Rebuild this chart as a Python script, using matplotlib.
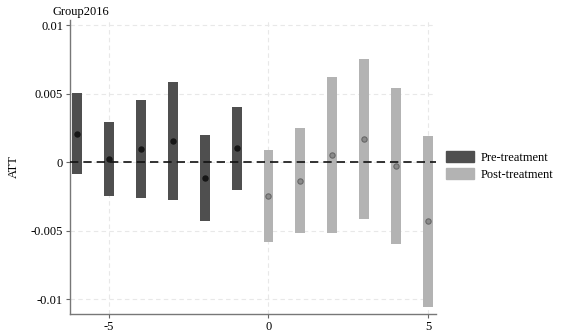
import matplotlib
matplotlib.use("Agg")
import matplotlib.pyplot as plt
from matplotlib.patches import Patch

plt.rcParams['font.family'] = ['Liberation Serif', 'DejaVu Serif']

# event time, point estimate and CI bounds
pre_t = [-6, -5, -4, -3, -2, -1]
pre_att = [0.0021, 0.00022, 0.00095, 0.00153, -0.00112, 0.00104]
pre_lo = [-0.00083, -0.00248, -0.0026, -0.00277, -0.00428, -0.00199]
pre_hi = [0.00509, 0.00294, 0.00453, 0.00586, 0.00202, 0.00404]

post_t = [0, 1, 2, 3, 4, 5]
post_att = [-0.00248, -0.00134, 0.00053, 0.00173, -0.00027, -0.00431]
post_lo = [-0.00586, -0.0052, -0.00516, -0.00411, -0.00601, -0.01056]
post_hi = [0.0009, 0.00253, 0.00626, 0.00752, 0.00542, 0.0019]

xticks = [-5, 0, 5]
yticks = [-0.01, -0.005, 0, 0.005, 0.01]
ylabels = ['-0.01', '-0.005', '0', '0.005', '0.01']

pre_col = '#4f4f4f'
post_col = '#b3b3b3'

fig = plt.figure(figsize=(5.67, 3.35), dpi=100)
ax = fig.add_axes([0.1235, 0.0627, 0.6455, 0.8776])

ax.set_xlim(-6.22, 5.25)
ax.set_ylim(-0.01109, 0.0104)

for v in xticks:
    ax.axvline(v, color='#e8e8e8', lw=0.8, ls=(0, (4, 3)), zorder=0)
for v in yticks:
    ax.axhline(v, color='#e8e8e8', lw=0.8, ls=(0, (4, 3)), zorder=0)

w = 0.31
ax.bar(pre_t, [h - l for h, l in zip(pre_hi, pre_lo)], bottom=pre_lo,
       width=w, color=pre_col, zorder=2)
ax.bar(post_t, [h - l for h, l in zip(post_hi, post_lo)], bottom=post_lo,
       width=w, color=post_col, zorder=2)

ax.axhline(0, color='#111111', lw=1.2, ls=(0, (5, 3)), zorder=3)

ax.plot(pre_t, pre_att, 'o', color='#161616', ms=3.6, zorder=4)
ax.plot(post_t, post_att, 'o', mfc='#8a8a8a', mec='#666666', mew=0.8,
        ms=3.8, zorder=4)

ax.set_xticks(xticks)
ax.set_xticklabels([str(v) for v in xticks])
ax.set_yticks(yticks)
ax.set_yticklabels(ylabels)
ax.tick_params(labelsize=9, length=3, width=0.8, color='#666666', pad=2)

for s in ['top', 'right']:
    ax.spines[s].set_visible(False)
for s in ['left', 'bottom']:
    ax.spines[s].set_color('#777777')
    ax.spines[s].set_linewidth(1.0)

ax.set_ylabel('ATT', fontsize=9, labelpad=8)
fig.text(0.093, 0.945, 'Group2016', fontsize=9, ha='left', va='bottom')

handles = [Patch(color=pre_col, label='Pre-treatment'),
           Patch(color=post_col, label='Post-treatment')]
fig.legend(handles=handles, loc='center left', bbox_to_anchor=(0.783, 0.505),
           frameon=False, fontsize=9, handlelength=2.2, handleheight=1.0,
           handletextpad=0.55, labelspacing=0.35, borderaxespad=0,
           borderpad=0.2)

fig.savefig('out.png', dpi=100)
